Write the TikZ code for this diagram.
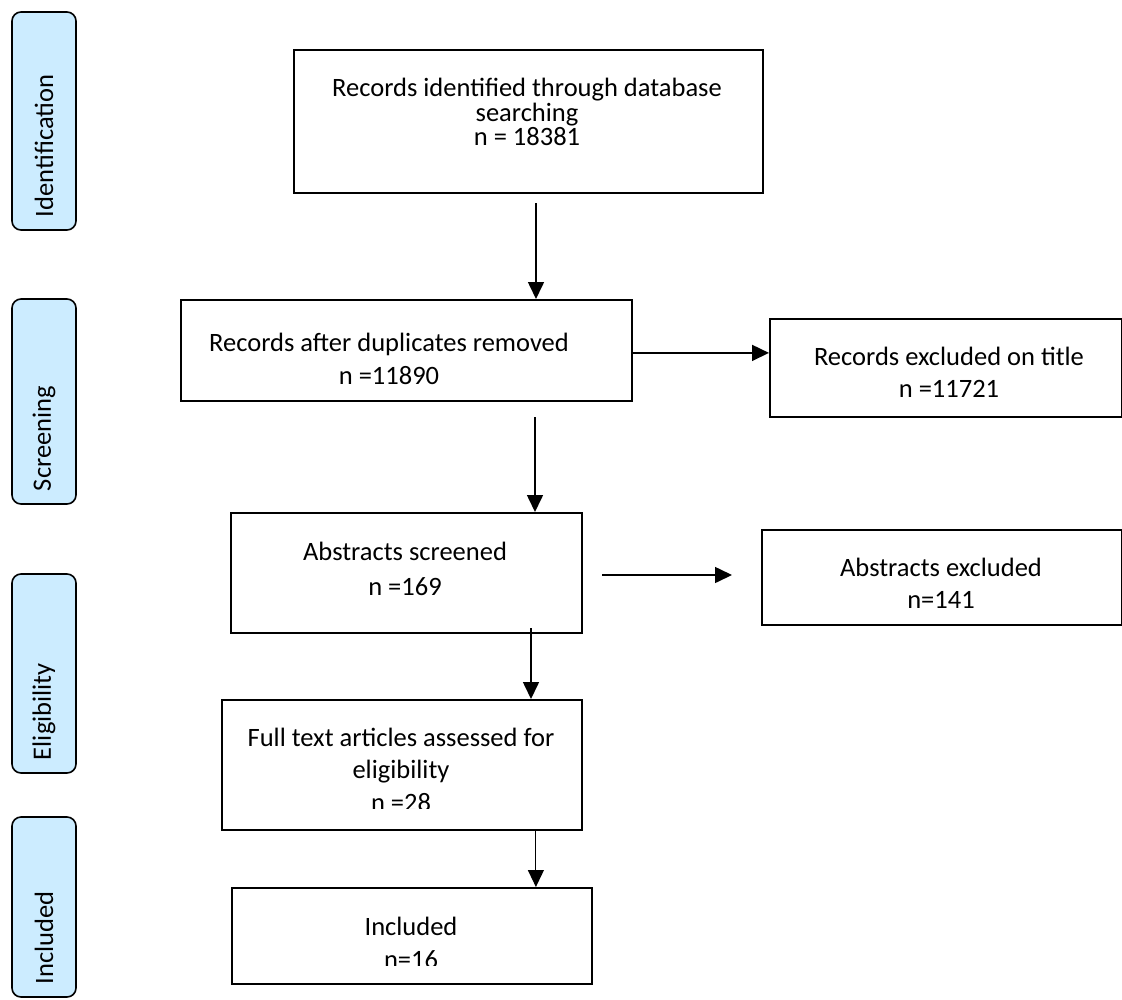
\documentclass[tikz,border=0pt]{standalone}
\usepackage{fontspec}
\setmainfont{Carlito}
\usetikzlibrary{arrows.meta}
\definecolor{stageblue}{RGB}{204,236,255}

\begin{document}
\begin{tikzpicture}[x=1pt, y=-1pt,
    box/.style={draw, line width=1.8pt, anchor=north west, inner sep=0pt},
    txt/.style={anchor=north, align=center, inner sep=0pt, font=\fontsize{26.5}{32.5}\selectfont},
    stage/.style={draw, line width=1.6pt, fill=stageblue, rounded corners=9pt, rotate=90,
        minimum height=64pt, inner xsep=13pt, inner ysep=0pt, text width=#1, align=left,
        font=\fontsize{26.5}{32}\selectfont},
    arr/.style={line width=1.6pt, -{Triangle[length=17pt, width=16pt]}}]
    \useasboundingbox (0,0) rectangle (1122,999);

    \node[stage=192pt] (ident) at (44,121) {Identification};
    \node[stage=179pt] (screen) at (44,401.5) {Screening};
    \node[stage=173pt] (elig) at (44,673.5) {Eligibility};
    \node[stage=154pt] (incl) at (44,907) {Included};

    \node[box, minimum width=469pt, minimum height=143pt] (recid) at (293,49) {};
    \node[box, minimum width=451pt, minimum height=101pt] (recdup) at (180,299) {};
    \node[box, minimum width=352pt, minimum height=98pt] (recexcl) at (769,318) {};
    \node[box, minimum width=351pt, minimum height=120pt] (abscr) at (230,512) {};
    \node[box, minimum width=360pt, minimum height=95pt] (absexcl) at (761,529) {};
    \node[box, minimum width=360pt, minimum height=130pt] (fulltxt) at (221,699) {};
    \node[box, minimum width=360pt, minimum height=96pt] (inclbox) at (231,887) {};

    \node[txt, font=\fontsize{26.5}{24.5}\selectfont] (recidt) at (527,78)
        {Records identified through database\\searching\\n = 18381};
    \node[txt] (recdupt) at (389,333) {Records after duplicates removed\\n =11890};
    \node[txt] (recexclt) at (949,346.5) {Records excluded on title\\n =11721};
    \node[txt, font=\fontsize{26.5}{35}\selectfont] (abscrt) at (405,541.5) {Abstracts screened\\n =169};
    \node[txt] (absexclt) at (941,557.5) {Abstracts excluded\\n=141};
    \begin{scope}
        \clip (221,699) rectangle (581,808);
        \node[txt] (fulltxtt) at (401,727.5) {Full text articles assessed for\\eligibility\\n =28};
    \end{scope}
    \begin{scope}
        \clip (231,887) rectangle (591,965);
        \node[txt, font=\fontsize{26.5}{33}\selectfont] (incltxt) at (411,916.5) {Included\\n=16};
    \end{scope}

    \coordinate (a1) at (536,203);
    \draw[arr] (a1) -- (a1 |- recdup.north);
    \draw[arr] ([yshift=-2.5pt]recdup.east) -- ([yshift=-2.5pt]recdup.east -| recexcl.west);
    \coordinate (a3) at (535,417);
    \draw[arr] (a3) -- (a3 |- abscr.north);
    \coordinate (a4s) at (602,575);
    \coordinate (a4e) at (732,575);
    \draw[arr] (a4s) -- (a4e);
    \coordinate (a5) at (531,628);
    \draw[arr] (a5) -- (a5 |- fulltxt.north);
    \draw[arr, line width=1.1pt] ([xshift=134pt]fulltxt.south) -- ([xshift=124pt]inclbox.north);
\end{tikzpicture}
\end{document}
